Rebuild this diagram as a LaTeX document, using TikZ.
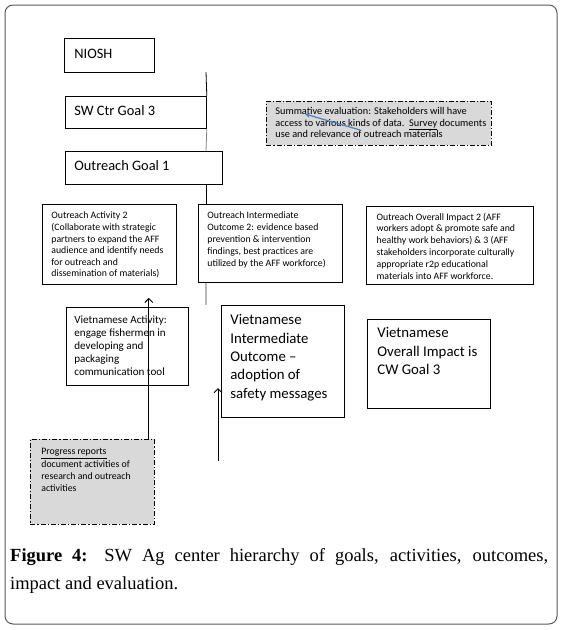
\documentclass[tikz,border=0pt]{standalone}
\usepackage{fontspec}
\setmainfont{Carlito}
\newfontfamily\capfont{Liberation Serif}
\usetikzlibrary{arrows.meta}

\definecolor{arrowblue}{RGB}{79,129,189}
\newcommand{\bigtext}{\fontsize{14.4pt}{17pt}\selectfont}
\newcommand{\midtext}{\fontsize{14.8pt}{18.3pt}\selectfont}
\newcommand{\smalltext}{\fontsize{10.3pt}{11.7pt}\selectfont}

\tikzset{
	box/.style = {draw, line width=0.8pt, anchor=north west, align=flush left, inner ysep=0pt},
	evalbox/.style = {box, fill=gray!30, dash pattern=on 5pt off 2pt on 1.2pt off 2pt},
	link/.style = {line width=0.8pt},
	uparrow/.style = {line width=1pt, -{Straight Barb[length=4pt, width=8pt]}}
}

\begin{document}
\begin{tikzpicture}[x=1pt, y=-1pt]
	\useasboundingbox (0,0) rectangle (562,630);
	\draw [rounded corners=8pt, line width=1pt, black!65] (5,5) rectangle (557,624);

	% goals
	\node [box, inner xsep=10pt, text width=70pt, text height=20pt, text depth=14pt, font=\bigtext] (niosh) at (64,38) {NIOSH};
	\node [box, inner xsep=9pt, text width=123pt, text height=19pt, text depth=13pt, font=\bigtext] (swgoal) at (65,96) {SW Ctr Goal 3};
	\node [box, inner xsep=9pt, text width=139pt, text height=19pt, text depth=14pt, font=\bigtext] (outgoal) at (65,151) {Outreach Goal 1};

	% evaluation boxes
	\node [evalbox, inner xsep=9pt, text width=207pt, text height=13pt, text depth=31pt, font=\smalltext] (summative) at (266,101) {\mbox{Summative evaluation: Stakeholders will have}\\ \mbox{access to various kinds of data.\ \ \underline{Survey} documents}\\ \mbox{use and relevance of outreach materials}};
	\node [evalbox, inner xsep=11pt, text width=102pt, text height=15.5pt, text depth=69.5pt, font=\fontsize{9.8pt}{12.3pt}\selectfont] (progress) at (30,439) {\underline{Progress reports}\\ document activities of\\ research and outreach\\ activities};

	% outreach row
	\node [box, inner xsep=9pt, text width=116pt, text height=14.5pt, text depth=65.5pt, font=\fontsize{9.8pt}{11.6pt}\selectfont] (activity) at (42,204) {Outreach Activity 2\\ (Collaborate with strategic\\ partners to expand the AFF\\ audience and identify needs\\ for outreach and\\ dissemination of materials)};
	\node [box, inner xsep=9pt, text width=126pt, text height=14.5pt, text depth=63.5pt, font=\fontsize{9.8pt}{12pt}\selectfont] (outcome) at (198,204) {Outreach Intermediate\\ Outcome 2: evidence based\\ prevention \& intervention\\ findings, best practices are\\ utilized by the AFF workforce)};
	\node [box, line width=1.3pt, inner xsep=10pt, text width=147pt, text height=13.5pt, text depth=64.5pt, font=\fontsize{9.8pt}{11.8pt}\selectfont] (impact) at (366,206) {Outreach Overall Impact 2 (AFF\\ workers adopt \& promote safe and\\ healthy work behaviors) \& 3 (AFF\\ stakeholders incorporate culturally\\ appropriate r2p educational\\ materials into AFF workforce.};

	% vietnamese row
	\node [box, inner xsep=8pt, text width=106pt, text height=16.5pt, text depth=61.5pt, font=\fontsize{11.1pt}{13pt}\selectfont] (vnactivity) at (66,307) {Vietnamese Activity:\\ engage fishermen in\\ developing and\\ packaging\\ communication tool};
	\node [box, inner xsep=9pt, text width=105pt, text height=19.5pt, text depth=92.5pt, font=\midtext] (vnoutcome) at (221,305) {Vietnamese\\ Intermediate\\ Outcome --\\ adoption of\\ safety messages};
	\node [box, inner xsep=10pt, text width=103pt, text height=18.5pt, text depth=70.5pt, font=\midtext] (vnimpact) at (367,319) {Vietnamese\\ Overall Impact is\\ CW Goal 3};

	% hierarchy line
	\coordinate (spine) at (206,72);
	\coordinate (spineend) at (206,305);
	\draw [link] (spine) -- (swgoal.north east);
	\draw [link, gray] (swgoal.south east) -- (spine |- outgoal.north);
	\draw [link] (spine |- outgoal.south) -- (spine |- outcome.north);
	\draw [link, gray!55, line width=1.6pt] (spine |- outcome.south) -- (spineend);

	% arrows
	\draw [uparrow, shorten >=13pt] ([xshift=-6pt]progress.north east) -- ([xshift=-6pt]progress.north east |- activity.south);
	\coordinate (vntail) at (218,461);
	\coordinate (vnhead) at (218,388);
	\draw [uparrow] (vntail) -- (vnhead);
	\coordinate (evtail) at (360,130);
	\coordinate (evhead) at (305,114);
	\draw [line width=1.2pt, arrowblue, -{Stealth[length=5pt, width=5pt]}] (evtail) -- (evhead);

	% caption
	\node [anchor=base west, inner sep=0pt, text width=538pt, align=justify, font=\capfont\fontsize{18.5pt}{28pt}\selectfont] (caption) at (10,561) {\textbf{Figure 4:} SW Ag center hierarchy of goals, activities, outcomes,\linebreak impact and evaluation.};
\end{tikzpicture}
\end{document}
